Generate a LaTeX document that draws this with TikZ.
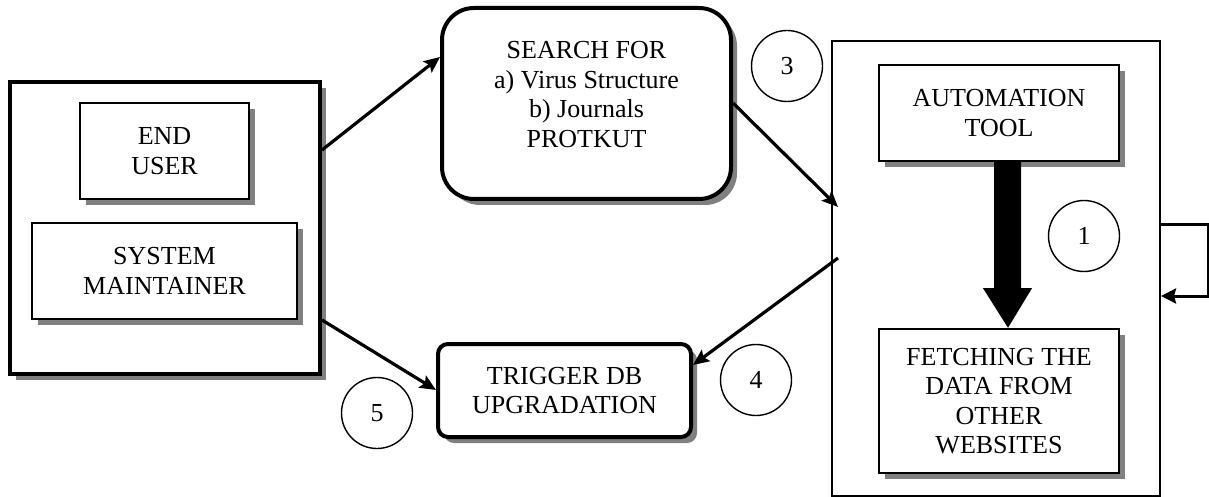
\documentclass[tikz,border=0pt]{standalone}
\usepackage{fontspec}
\setmainfont{Liberation Serif}
\usetikzlibrary{arrows.meta,shadows,calc}
\definecolor{shadowgrey}{rgb}{0.5, 0.5, 0.5}
\tikzset{
  every node/.style={font=\fontsize{13}{14.8}\selectfont},
  boxshadow/.style={drop shadow={shadow xshift=3pt,shadow yshift=-3pt,fill=shadowgrey,opacity=1}},
  plainbox/.style={draw,fill=white,line width=1.2pt,inner sep=0pt,align=center,boxshadow},
  thickbox/.style={plainbox,line width=2pt},
  stepno/.style={draw,circle,line width=0.7pt,minimum size=35.5pt,inner sep=0pt},
  flow/.style={line width=1.6pt,-{Stealth[length=8pt,width=7pt,inset=1.5pt]}},
}

\begin{document}
\begin{tikzpicture}[x=0.5pt,y=-0.5pt]
  \useasboundingbox (0,0) rectangle (1209,497);

  % users
  \node[thickbox,minimum width=155pt,minimum height=146pt] (outer) at (165,228) {};
  \node[plainbox,minimum width=84.5pt,minimum height=48pt] (user) at (164.5,151) {END\\USER};
  \node[plainbox,minimum width=132.5pt,minimum height=48pt] (maint) at (164.5,271) {SYSTEM\\MAINTAINER};

  % middle
  \node[thickbox,rounded corners=16pt,minimum width=144.5pt,minimum height=95.5pt,text depth=9pt] (search) at (586.5,103.5)
    {SEARCH FOR\\a) Virus Structure\\b) Journals\\PROTKUT};
  \node[thickbox,rounded corners=5pt,minimum width=126.5pt,minimum height=46.5pt] (trigger) at (564.5,390.5)
    {TRIGGER DB\\UPGRADATION};

  % server side
  \node[draw,line width=1pt,minimum width=164pt,minimum height=227.5pt] (server) at (996,268.5) {};
  \node[plainbox,minimum width=120pt,minimum height=48pt] (tool) at (999,113) {AUTOMATION\\TOOL};
  \node[plainbox,minimum width=120pt,minimum height=72pt] (fetch) at (999,401) {FETCHING THE\\DATA FROM\\OTHER\\WEBSITES};

  \coordinate (tip) at ($(fetch.north)+(9,0)$);
  \fill ($(tool.south)+(-5,0)$) -- ($(tool.south)+(22,0)$) -- ($(tool.south)+(22,126)$)
    -- ($(tool.south)+(33,126)$) -- (tip) -- ($(tool.south)+(-16,126)$) -- ($(tool.south)+(-5,126)$) -- cycle;

  \draw[line width=1.5pt,-{Stealth[length=7.5pt,width=7.5pt,inset=1pt]}]
    (server.east |- 0,225) -- ++(47,0) |- (server.east |- 0,296);

  % steps
  \node[stepno] (c1) at (1084,236) {1};
  \node[stepno] (c3) at (787,66) {3};
  \node[stepno] (c4) at (756,380) {4};
  \node[stepno] (c5) at (377,413) {5};

  \draw[flow] (outer.east |- 0,150) -- (search.west |- 0,57);
  \draw[flow] (search.east |- 0,103) -- ($(server.west |- 0,207)+(7,0)$);
  \draw[flow] ($(server.west |- 0,258)+(7,0)$) -- (trigger.east |- 0,365);
  \draw[flow] (outer.east |- 0,320) -- (trigger.west |- 0,390);

\end{tikzpicture}
\end{document}
